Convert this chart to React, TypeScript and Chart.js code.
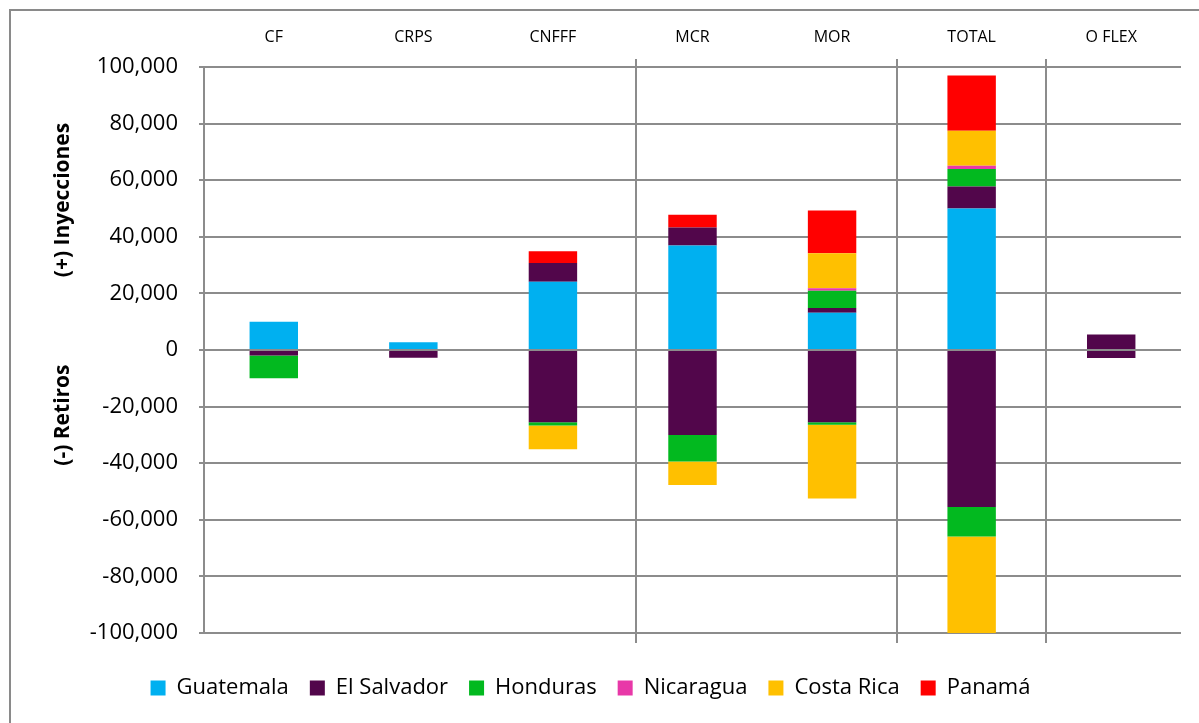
import React, { useEffect, useRef } from "react";
import { Chart, registerables } from "chart.js";

Chart.register(...registerables);

// ---- Data ----
const categories = ["CF", "CRPS", "CNFFF", "MCR", "MOR", "TOTAL", "O FLEX"];
const countries = ["Guatemala", "El Salvador", "Honduras", "Nicaragua", "Costa Rica", "Panamá"];
const countryColors = ["#00B0F0", "#52064B", "#02B91F", "#E838A8", "#FFC000", "#FF0000"];

// (+) Inyecciones
const injGuatemala = [10000, 2700, 24100, 36900, 13200, 50000, 0];
const injElSalvador = [0, 0, 6600, 6400, 1600, 7800, 5500];
const injHonduras = [0, 0, 0, 0, 6100, 6200, 0];
const injNicaragua = [0, 0, 0, 0, 900, 1100, 0];
const injCostaRica = [0, 0, 0, 0, 12400, 12400, 0];
const injPanama = [0, 0, 4200, 4500, 15100, 19500, 0];

// (-) Retiros
const retGuatemala = [0, 0, 0, 0, 0, 0, 0];
const retElSalvador = [-1900, -2700, -25500, -30000, -25500, -55500, -2800];
const retHonduras = [-8100, 0, -1200, -9400, -900, -10400, 0];
const retNicaragua = [0, 0, 0, 0, 0, 0, 0];
const retCostaRica = [0, 0, -8400, -8300, -26100, -34100, 0];
const retPanama = [0, 0, 0, 0, 0, 0, 0];

const yTickMin = -100000;
const yTickMax = 100000;
const yTickStep = 20000;

// separator lines, in category-index units
const separatorPositions = [2.595, 4.468, 5.532];

const axisTitles = [
  { text: "(+) Inyecciones", value: 53000 },
  { text: "(-) Retiros", value: -23000 },
];

const injections = [injGuatemala, injElSalvador, injHonduras, injNicaragua, injCostaRica, injPanama];
const withdrawals = [retGuatemala, retElSalvador, retHonduras, retNicaragua, retCostaRica, retPanama];

const GRID = "#8c8c8c";
const FONT = "'Open Sans', 'Noto Sans', sans-serif";

const separatorPlugin = {
  id: "separators",
  beforeDatasetsDraw(chart: any) {
    const { ctx, chartArea } = chart;
    const x = chart.scales.x;
    ctx.save();
    ctx.strokeStyle = GRID;
    ctx.lineWidth = 2;
    separatorPositions.forEach((p) => {
      const px = Math.round(x.getPixelForValue(p));
      ctx.beginPath();
      ctx.moveTo(px, chartArea.top - 8);
      ctx.lineTo(px, chartArea.bottom + 10);
      ctx.stroke();
    });
    ctx.restore();
  },
  afterDatasetsDraw(chart: any) {
    const { ctx, chartArea } = chart;
    const y = chart.scales.y;
    const py = Math.round(y.getPixelForValue(0));
    ctx.save();
    ctx.strokeStyle = "rgba(140,140,140,0.6)";
    ctx.lineWidth = 1.5;
    ctx.beginPath();
    ctx.moveTo(chartArea.left, py);
    ctx.lineTo(chartArea.right, py);
    ctx.stroke();
    ctx.restore();
  },
};

const yTitlePlugin = {
  id: "yTitles",
  afterDraw(chart: any) {
    const { ctx } = chart;
    const y = chart.scales.y;
    ctx.save();
    ctx.fillStyle = "#000";
    ctx.font = `bold 21px ${FONT}`;
    ctx.textAlign = "center";
    ctx.textBaseline = "middle";
    axisTitles.forEach((t) => {
      const py = y.getPixelForValue(t.value);
      ctx.save();
      ctx.translate(63, py);
      ctx.rotate(-Math.PI / 2);
      ctx.fillText(t.text, 0, 0);
      ctx.restore();
    });
    ctx.restore();
  },
};

export default function App() {
  const ref = useRef<HTMLCanvasElement>(null);

  useEffect(() => {
    const datasets: any[] = [];
    countries.forEach((c, i) => {
      datasets.push({
        label: c,
        data: injections[i],
        backgroundColor: countryColors[i],
        borderWidth: 0,
        barPercentage: 0.347,
        categoryPercentage: 1,
      });
    });
    countries.forEach((c, i) => {
      datasets.push({
        label: c + " ",
        data: withdrawals[i],
        backgroundColor: countryColors[i],
        borderWidth: 0,
        barPercentage: 0.347,
        categoryPercentage: 1,
      });
    });

    const chart = new Chart(ref.current!, {
      type: "bar",
      data: { labels: categories, datasets },
      options: {
        animation: false,
        responsive: false,
        locale: "en-US",
        layout: { padding: { left: 0, right: 18, top: 0, bottom: 14 } },
        plugins: {
          tooltip: { enabled: false },
          legend: {
            position: "bottom",
            title: { display: true, text: "", font: { size: 10 }, padding: { top: 11, bottom: 0 } },
            labels: {
              filter: (item: any) => item.datasetIndex < countries.length,
              boxWidth: 15,
              boxHeight: 15,
              padding: 21,
              color: "#000",
              font: { family: FONT, size: 22 },
            },
          },
        },
        scales: {
          x: {
            position: "top",
            stacked: true,
            grid: { display: false, drawTicks: false },
            border: { display: false },
            ticks: { color: "#000", padding: 20, font: { family: FONT, size: 16 } },
            afterFit: (s: any) => {
              s.height = 67;
            },
          },
          y: {
            stacked: true,
            min: yTickMin,
            max: yTickMax,
            grid: { color: GRID, lineWidth: 2, tickLength: 5, drawTicks: true },
            border: { display: true, color: GRID, width: 2 },
            ticks: {
              stepSize: yTickStep,
              color: "#000",
              padding: 21,
              font: { family: FONT, size: 22 },
            },
            afterFit: (s: any) => {
              s.width = 204;
            },
          },
        },
      },
      plugins: [separatorPlugin, yTitlePlugin],
    });
    return () => chart.destroy();
  }, []);

  return (
    <div
      style={{
        position: "absolute",
        left: 0,
        top: 0,
        width: 1199,
        height: 723,
        overflow: "hidden",
        background: "#fff",
      }}
    >
      <div
        style={{
          position: "absolute",
          left: 9,
          top: 9,
          width: 1260,
          height: 800,
          border: "2px solid #8a8a8a",
          boxSizing: "border-box",
        }}
      />
      <canvas ref={ref} width={1199} height={723} style={{ position: "absolute", left: 0, top: 0 }} />
    </div>
  );
}
